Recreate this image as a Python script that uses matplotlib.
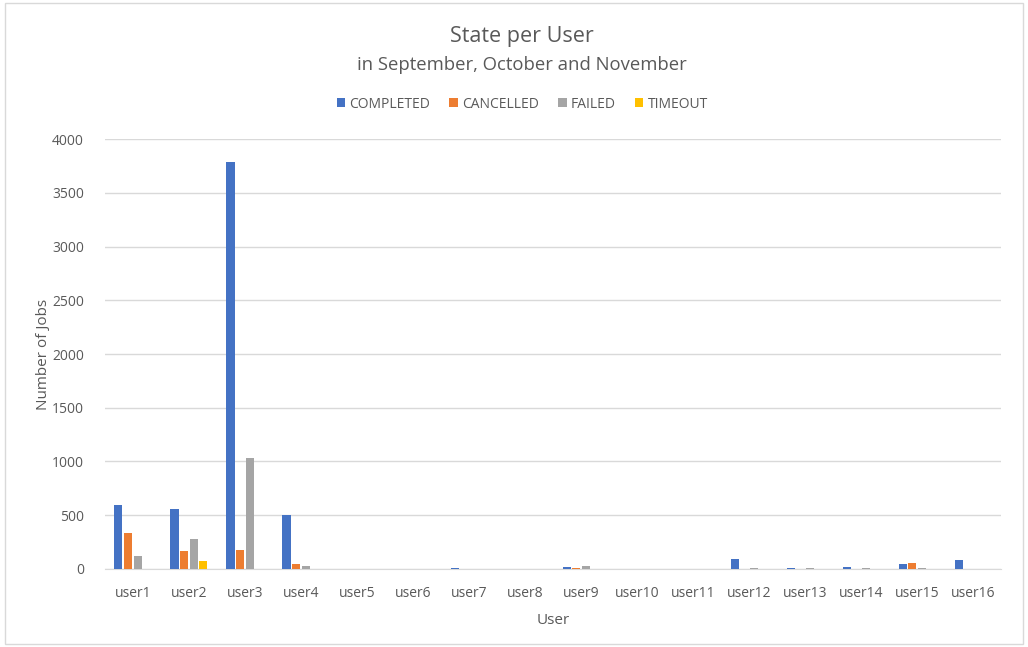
import matplotlib
matplotlib.use("Agg")
import matplotlib.pyplot as plt
import numpy as np
from matplotlib.patches import Rectangle

users = [f"user{i}" for i in range(1, 17)]
completed = [595, 560, 3785, 500, 2, 2, 5, 3, 20, 2, 2, 95, 5, 15, 45, 80]
cancelled = [335, 165, 180, 45, 0, 0, 2, 0, 5, 0, 0, 3, 2, 3, 60, 2]
failed = [120, 280, 1035, 25, 1, 1, 3, 2, 25, 1, 1, 5, 8, 5, 8, 3]
timeout = [0, 75, 0, 0, 0, 0, 0, 0, 0, 0, 0, 0, 0, 0, 0, 0]

series = [
    ("COMPLETED", completed, "#4472C4"),
    ("CANCELLED", cancelled, "#ED7D31"),
    ("FAILED", failed, "#A5A5A5"),
    ("TIMEOUT", timeout, "#FFC000"),
]

plt.rcParams["font.family"] = ["Open Sans", "DejaVu Sans"]
text_color = "#595959"

fig = plt.figure(figsize=(10.28, 6.47), dpi=100)
fig.patches.append(Rectangle((0.005, 0.005), 0.99, 0.99, transform=fig.transFigure,
                             fill=False, edgecolor="#D9D9D9", linewidth=1))
ax = fig.add_axes([0.102, 0.1206, 0.872, 0.6645])

x = np.arange(len(users))
step = 0.172
width = 0.145
for i, (name, vals, color) in enumerate(series):
    ax.bar(x + (i - 1.5) * step, vals, width=width, color=color, label=name, zorder=3)

ax.set_xlim(-0.5, len(users) - 0.5)
ax.set_ylim(0, 4000)
ax.set_yticks(range(0, 4001, 500))
ax.set_xticks(x)
ax.set_xticklabels(users)
ax.grid(axis="y", color="#D9D9D9", linewidth=1, zorder=0)
for s in ["top", "right", "left"]:
    ax.spines[s].set_visible(False)
ax.spines["bottom"].set_color("#D9D9D9")
ax.tick_params(axis="y", length=0, labelsize=10, colors=text_color, pad=15)
ax.tick_params(axis="x", length=0, labelsize=10, colors=text_color, pad=12)
ax.set_xlabel("User", fontsize=11, color=text_color, labelpad=9)
ax.set_ylabel("Number of Jobs", fontsize=11, color=text_color, labelpad=1)

fig.text(0.508, 0.944, "State per User", ha="center", va="center", fontsize=15.5, color=text_color)
fig.text(0.508, 0.899, "in September, October and November", ha="center", va="center",
         fontsize=13.3, color=text_color)
fig.legend(loc="center", bbox_to_anchor=(0.508, 0.839), ncol=4, frameon=False,
           fontsize=10, labelcolor=text_color, handlelength=0.6, handleheight=0.6,
           handletextpad=0.3, columnspacing=1.4)

fig.savefig("out.png", dpi=100, facecolor="white")
